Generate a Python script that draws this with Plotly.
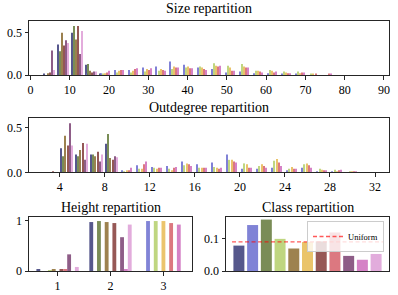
import plotly.graph_objects as go

# ---------------- data ----------------
class_colors = ["#393b79", "#6b6ecf", "#637939", "#b5cf6b", "#8c6d31", "#e7ba52",
                "#843c39", "#d6616b", "#7b4173", "#ce6dbd", "#de9ed6"]
class_index = list(range(11))

# Size repartition: histogram bin centres and per-class fractions
size_bins = [4.771, 8.313, 11.854, 15.396, 18.938, 22.479, 26.021, 29.563, 33.104, 36.646,
             40.188, 43.729, 47.271, 50.813, 54.354, 57.896, 61.438, 64.979, 68.521, 72.063,
             75.604, 79.146, 82.688, 86.229]
size_fraction = [
    [0.01, 0.36, 0.50, 0.12, 0.01, 0, 0, 0, 0, 0, 0, 0, 0, 0, 0, 0, 0, 0, 0, 0, 0, 0, 0, 0],
    [0, 0, 0, 0.01, 0.02, 0.06, 0.06, 0.09, 0.10, 0.16, 0.12, 0.09, 0.07, 0.03, 0.04, 0.02, 0.02, 0.01, 0.01, 0, 0, 0, 0, 0],
    [0, 0.28, 0.58, 0.13, 0, 0, 0, 0, 0, 0, 0, 0, 0, 0, 0, 0, 0, 0, 0, 0, 0, 0, 0, 0],
    [0, 0, 0, 0, 0.01, 0.03, 0.03, 0.04, 0.05, 0.07, 0.09, 0.10, 0.14, 0.11, 0.13, 0.05, 0.06, 0.04, 0.04, 0.01, 0, 0, 0, 0],
    [0.02, 0.50, 0.42, 0.05, 0, 0, 0, 0, 0, 0, 0, 0, 0, 0, 0, 0, 0, 0, 0, 0, 0, 0, 0, 0],
    [0, 0, 0, 0, 0.02, 0.05, 0.05, 0.07, 0.07, 0.10, 0.10, 0.09, 0.11, 0.09, 0.10, 0.05, 0.05, 0.03, 0.02, 0.01, 0, 0, 0, 0],
    [0.03, 0.35, 0.58, 0.03, 0, 0, 0, 0, 0, 0, 0, 0, 0, 0, 0, 0, 0, 0, 0, 0, 0, 0, 0, 0],
    [0, 0, 0, 0, 0.03, 0.06, 0.07, 0.06, 0.06, 0.09, 0.08, 0.07, 0.10, 0.05, 0.09, 0.04, 0.03, 0.02, 0.03, 0.01, 0.01, 0, 0, 0],
    [0.29, 0.41, 0.25, 0.04, 0, 0, 0, 0, 0, 0, 0, 0, 0, 0, 0, 0, 0, 0, 0, 0, 0, 0, 0, 0],
    [0, 0, 0, 0, 0.05, 0.06, 0.08, 0.08, 0.05, 0.09, 0.08, 0.06, 0.11, 0.05, 0.09, 0.03, 0.04, 0.02, 0.03, 0, 0.01, 0, 0, 0],
    [0.06, 0.38, 0.52, 0.04, 0, 0, 0, 0, 0, 0, 0, 0, 0, 0, 0, 0, 0, 0, 0, 0, 0, 0, 0, 0],
]

# Outdegree repartition
outdegree_bins = [3.267, 4.6, 5.933, 7.267, 8.6, 9.933, 11.267, 12.6, 13.933, 15.267, 16.6,
                  17.933, 19.267, 20.6, 21.933, 23.267, 24.6, 25.933, 27.267, 28.6, 29.933, 31.267]
outdegree_fraction = [
    [0, 0.27, 0.20, 0.20, 0.32, 0, 0, 0, 0, 0, 0, 0, 0, 0, 0, 0, 0, 0, 0, 0, 0, 0],
    [0, 0, 0, 0, 0, 0.02, 0.08, 0.06, 0.07, 0.12, 0.09, 0.11, 0.20, 0.04, 0.04, 0.05, 0.02, 0.05, 0.01, 0.01, 0, 0],
    [0, 0.18, 0.18, 0.20, 0.43, 0, 0, 0, 0, 0, 0, 0, 0, 0, 0, 0, 0, 0, 0, 0, 0, 0],
    [0, 0, 0, 0, 0, 0.01, 0.04, 0.05, 0.04, 0.08, 0.05, 0.06, 0.14, 0.10, 0.07, 0.13, 0.04, 0.09, 0.04, 0.03, 0.01, 0],
    [0, 0.41, 0.25, 0.18, 0.16, 0, 0, 0, 0, 0, 0, 0, 0, 0, 0, 0, 0, 0, 0, 0, 0, 0],
    [0, 0, 0, 0, 0, 0.02, 0.04, 0.04, 0.02, 0.10, 0.05, 0.05, 0.14, 0.09, 0.09, 0.15, 0.06, 0.10, 0.03, 0.01, 0.01, 0],
    [0.01, 0.30, 0.33, 0.23, 0.14, 0, 0, 0, 0, 0, 0, 0, 0, 0, 0, 0, 0, 0, 0, 0, 0, 0],
    [0, 0, 0, 0, 0, 0.02, 0.09, 0.05, 0.05, 0.09, 0.05, 0.04, 0.12, 0.05, 0.07, 0.11, 0.04, 0.08, 0.02, 0.02, 0.01, 0],
    [0, 0.55, 0.14, 0.12, 0.18, 0, 0, 0, 0, 0, 0, 0, 0, 0, 0, 0, 0, 0, 0, 0, 0, 0],
    [0, 0, 0, 0, 0, 0.05, 0.12, 0.05, 0.06, 0.07, 0.05, 0.05, 0.11, 0.05, 0.05, 0.07, 0.04, 0.05, 0.02, 0.03, 0.01, 0],
    [0, 0.30, 0.32, 0.20, 0.17, 0, 0, 0, 0, 0, 0, 0, 0, 0, 0, 0, 0, 0, 0, 0, 0, 0],
]

# Height repartition
height_values = [1, 2, 3]
height_fraction = [
    [0.02, 0.97, 0],
    [0, 0, 0.99],
    [0, 0.99, 0],
    [0.01, 0, 0.99],
    [0.03, 0.97, 0],
    [0, 0, 0.99],
    [0.04, 0.95, 0],
    [0.02, 0, 0.95],
    [0.33, 0.67, 0],
    [0, 0.04, 0.92],
    [0.08, 0.92, 0],
]

# Class repartition
class_fraction = [0.079, 0.143, 0.16, 0.10, 0.07, 0.09, 0.092, 0.12, 0.047, 0.035, 0.053]

# ---------------- figure ----------------
W, H = 398, 295
FONT = "Liberation Serif, DejaVu Serif, serif"
OPA = 0.85


def fx(p):
    return p / W


def fy(p):
    return 1 - p / H


fig = go.Figure()
for i, col in enumerate(class_colors):
    common = dict(marker_color=col, opacity=OPA, marker_line_width=0, showlegend=False)
    fig.add_bar(x=size_bins, y=size_fraction[i], xaxis="x", yaxis="y", **common)
    fig.add_bar(x=outdegree_bins, y=outdegree_fraction[i], xaxis="x2", yaxis="y2", **common)
    fig.add_bar(x=height_values, y=height_fraction[i], xaxis="x3", yaxis="y3", **common)

fig.add_bar(x=class_index, y=class_fraction, marker_color=class_colors, opacity=OPA,
            marker_line_width=0, showlegend=False, xaxis="x4", yaxis="y4")
uniform = 1 / len(class_index)
fig.add_scatter(x=[class_index[0] - 0.5, class_index[-1] + 0.5], y=[uniform, uniform],
                mode="lines", name="Uniform", xaxis="x4", yaxis="y4",
                line=dict(color="rgba(255,0,0,0.65)", width=1.3, dash="4px,2.5px"))

ax = dict(showline=True, linecolor="#262626", linewidth=1, mirror=True, ticks="outside",
          ticklen=3.5, tickwidth=0.8, tickcolor="#262626", showgrid=False, zeroline=False,
          automargin=False, tickfont=dict(family=FONT, size=12, color="black"))

fig.update_layout(
    width=W, height=H, margin=dict(l=0, r=0, t=0, b=0, pad=0, autoexpand=False),
    paper_bgcolor="white", plot_bgcolor="white",
    barmode="group", bargap=0.2, bargroupgap=0,
    font=dict(family=FONT, color="black"),
    xaxis=dict(domain=[fx(29), fx(389)], range=[-0.4, 91.3], tickvals=[0, 10, 20, 30, 40, 50, 60, 70, 80, 90], anchor="y", **ax),
    yaxis=dict(domain=[fy(75), fy(20.5)], range=[0, 0.645], tickvals=[0, 0.5], ticktext=["0.0", "0.5"], anchor="x", **ax),
    xaxis2=dict(domain=[fx(29), fx(389)], range=[1.27, 33.24], tickvals=[4, 8, 12, 16, 20, 24, 28, 32], anchor="y2", **ax),
    yaxis2=dict(domain=[fy(172.3), fy(118.3)], range=[0, 0.607], tickvals=[0, 0.5], ticktext=["0.0", "0.5"], anchor="x2", **ax),
    xaxis3=dict(domain=[fx(29), fx(192)], range=[0.46, 3.54], tickvals=[1, 2, 3], anchor="y3", **ax),
    yaxis3=dict(domain=[fy(271), fy(217)], range=[0, 1.07], tickvals=[0, 1], anchor="x3", **ax),
    xaxis4=dict(domain=[fx(226), fx(389)], range=[-0.94, 10.94], anchor="y4",
                **{**ax, "ticks": "", "showticklabels": False}),
    yaxis4=dict(domain=[fy(271), fy(217)], range=[0, 0.168], tickvals=[0, 0.1], ticktext=["0.0", "0.1"], anchor="x4", **ax),
    legend=dict(x=fx(384), y=fy(221), xanchor="right", yanchor="top",
                bgcolor="rgba(255,255,255,0.8)", bordercolor="#cccccc", borderwidth=1,
                font=dict(family=FONT, size=8.5), itemwidth=30, tracegroupgap=0),
    showlegend=True,
)

titles = [("Size repartition", 209, 9), ("Outdegree repartition", 209, 107),
          ("Height repartition", 110.5, 207), ("Class repartition", 307.5, 207)]
for text, cx, cy in titles:
    fig.add_annotation(text=text, x=fx(cx), y=fy(cy), xref="paper", yref="paper",
                       showarrow=False, xanchor="center", yanchor="middle",
                       font=dict(family=FONT, size=14, color="black"))

fig.write_html("out.html", config={"displayModeBar": False},
               post_script="document.body.style.margin='0';document.body.style.overflow='hidden';")
